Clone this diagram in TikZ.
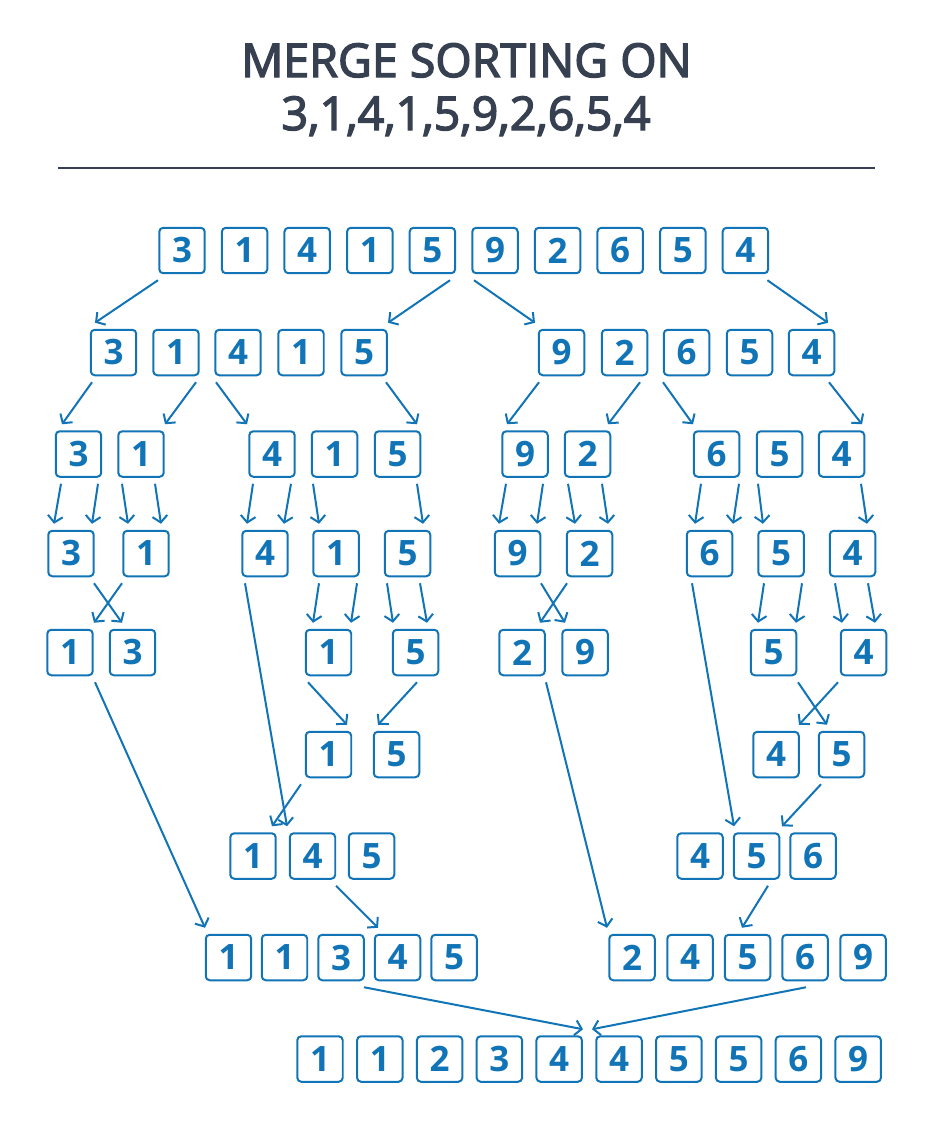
\documentclass[tikz,border=0pt]{standalone}
\usepackage{fontspec}
\setmainfont{Open Sans}
\newfontfamily\headfont[FakeBold=3]{Open Sans}
\usetikzlibrary{arrows.meta,calc}
\definecolor{cellblue}{RGB}{17,116,183}
\definecolor{headgray}{RGB}{54,64,80}
\tikzset{
  cell/.style={draw=cellblue,line width=0.04cm,rounded corners=0.08cm,
    minimum width=0.91cm,minimum height=0.91cm,inner sep=0pt,text=cellblue,
    font=\fontsize{19.9}{24}\selectfont\bfseries},
  link/.style={cellblue,line width=0.04cm,-{Straight Barb[length=1.3mm,width=3mm]}},
  head/.style={anchor=base,text=headgray,font=\headfont\fontsize{26.5}{32}\selectfont}
}
% arrow from below one cell to above another, x offsets from the centres
\newcommand\conn[4]{\draw[link] ($(#1.south)+(#2,6)$) -- ($(#3.north)+(#4,-6)$);}
\begin{document}
\begin{tikzpicture}[x=0.02cm,y=-0.02cm]
\useasboundingbox (0,0) rectangle (933,1139);

\node[head] (title1) at (466.5,77) {MERGE SORTING ON};
\node[head] (title2) at (466,130) {3,1,4,1,5,9,2,6,5,4};
\draw[headgray,line width=0.04cm] (58,168) -- (875,168);

% rows
\foreach \v [count=\i] in {3,1,4,1,5,9,2,6,5,4}
  \node[cell] (a\i) at ({182+62.6*(\i-1)},250.5) {\v};
\foreach \x/\v [count=\i] in {113.5/3,176/1,238/4,301/1,364/5,561.5/9,624.5/2,686.5/6,749.5/5,811.5/4}
  \node[cell] (b\i) at (\x,352.5) {\v};
\foreach \x/\v [count=\i] in {78.5/3,141/1,272/4,334.5/1,397.5/5,525/9,587.5/2,716.5/6,779.5/5,841.5/4}
  \node[cell] (c\i) at (\x,454) {\v};
\foreach \x/\v [count=\i] in {71/3,146/1,265/4,336/1,407.5/5,517.5/9,589.5/2,709.5/6,781/5,852.5/4}
  \node[cell] (d\i) at (\x,553.5) {\v};
\foreach \x/\v [count=\i] in {70/1,132.5/3,328.5/1,415.5/5,522/2,585/9,773.5/5,863.5/4}
  \node[cell] (e\i) at (\x,652.5) {\v};
\foreach \x/\v [count=\i] in {328.5/1,396.5/5,776/4,841.5/5}
  \node[cell] (f\i) at (\x,754.5) {\v};
\foreach \x/\v [count=\i] in {253/1,312.5/4,371.5/5,700/4,756.5/5,813/6}
  \node[cell] (g\i) at (\x,856) {\v};
\foreach \x/\v [count=\i] in {228.5/1,284.5/1,341/3,397.5/4,454/5,632/2,690/4,747.5/5,805/6,863/9}
  \node[cell] (h\i) at (\x,957.5) {\v};
\foreach \v [count=\i] in {1,1,2,3,4,4,5,5,6,9}
  \node[cell] (i\i) at ({320+59.8*(\i-1)},1059) {\v};

% splitting
\conn{a1}{-24}{b1}{-18.5}
\conn{a5}{17.6}{b5}{24}
\conn{a6}{-21}{b6}{-26.5}
\conn{a10}{22}{b10}{16.5}
\conn{b1}{-21.5}{c1}{-16.5}
\conn{b2}{20}{c2}{24}
\conn{b3}{-22}{c3}{-25}
\conn{b5}{22}{c5}{19.5}
\conn{b6}{-22.5}{c6}{-18}
\conn{b7}{15.5}{c7}{20.5}
\conn{b8}{-23.5}{c8}{-23.5}
\conn{b10}{17.5}{c10}{20.5}
\conn{c1}{-17.5}{d1}{-17}
\conn{c1}{19.5}{d1}{21}
\conn{c2}{-19}{d2}{-18}
\conn{c2}{14}{d2}{15}
\conn{c3}{-19}{d3}{-18}
\conn{c3}{19}{d3}{19}
\conn{c4}{-21.5}{d4}{-17}
\conn{c5}{19.5}{d5}{15.5}
\conn{c6}{-19}{d6}{-18.5}
\conn{c6}{18}{d6}{19.5}
\conn{c7}{-19.5}{d7}{-14.5}
\conn{c7}{14.5}{d7}{18.5}
\conn{c8}{-15.5}{d8}{-14.5}
\conn{c8}{22.5}{d8}{23.5}
\conn{c9}{-21.5}{d9}{-18}
\conn{c10}{19.5}{d10}{14.5}
\conn{d4}{-17}{e3}{-15.5}
\conn{d4}{21}{e3}{22.5}
\conn{d5}{-20.5}{e4}{-22.5}
\conn{d5}{12.5}{e4}{11.5}
\conn{d9}{-17}{e7}{-15.5}
\conn{d9}{21}{e7}{22.5}
\conn{d10}{-17.5}{e8}{-21.5}
\conn{d10}{15.5}{e8}{11.5}

% merging
\conn{d1}{23}{e2}{-10.5}
\conn{d2}{-24}{e1}{24}
\conn{d6}{23.5}{e6}{-20}
\conn{d7}{-22.5}{e5}{18}
\conn{e7}{24.5}{f4}{-14.5}
\conn{e8}{-25.5}{f3}{23}
\conn{e3}{-20.5}{f1}{18.5}
\conn{e4}{1.5}{f2}{-18.5}
\conn{d3}{-20}{g2}{-25.5}
\conn{d8}{-17.5}{g5}{-22.5}
\conn{f1}{-27.5}{g1}{19}
\conn{f4}{-20.5}{g6}{-31}
\conn{e1}{25}{h1}{-23.5}
\conn{e5}{24}{h6}{-25}
\conn{g2}{23.5}{h4}{-19.5}
\conn{g5}{11.5}{h8}{-5.5}
\conn{h3}{23}{i5}{23.8}
\conn{h9}{1}{i6}{-27}

\end{tikzpicture}
\end{document}
